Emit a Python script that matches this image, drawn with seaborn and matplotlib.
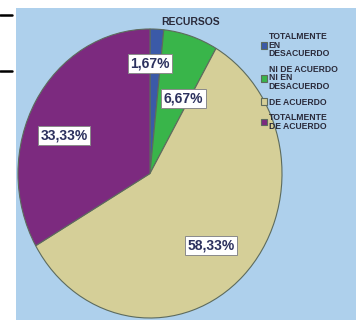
import matplotlib
matplotlib.use("Agg")
import matplotlib.pyplot as plt
import seaborn as sns
import numpy as np
from matplotlib.patches import Rectangle
from matplotlib.lines import Line2D

# data
categories = ["TOTALMENTE\nEN\nDESACUERDO", "NI DE ACUERDO\nNI EN\nDESACUERDO",
              "DE ACUERDO", "TOTALMENTE\nDE ACUERDO"]
percent = [1.67, 6.67, 58.33, 33.33]
colors = ["#3b5aa8", "#39b54a", "#d5cf98", "#7c2a7f"]
title = "RECURSOS"

sns.set_theme(style="white")
plt.rcParams['font.family'] = ['Liberation Sans', 'DejaVu Sans']

fig = plt.figure(figsize=(3.56, 3.2), dpi=100)
fig.patch.set_facecolor("white")

# light blue chart area
fig.patches.append(Rectangle((16 / 356, 0), 1 - 16 / 356, 1 - 8 / 320,
                             transform=fig.transFigure, facecolor="#aed0ec",
                             edgecolor="none", zorder=-5))
# the two short black rules at the left edge
for yy in (1 - 15 / 320, 1 - 71 / 320):
    fig.lines.append(Line2D([0, 12 / 356], [yy, yy], transform=fig.transFigure,
                            color="black", lw=1.8))

ax = fig.add_axes([18 / 356, 2 / 320, 264 / 356, 289 / 320])
ax.set_facecolor("none")
ax.set_zorder(1)
wedges, _ = ax.pie(percent, colors=colors, startangle=90, counterclock=False,
                   wedgeprops=dict(edgecolor="#5d6b5d", linewidth=0.8))
ax.set_aspect("auto")
ax.set_xlim(-1, 1)
ax.set_ylim(-1, 1)
ax.axis("off")

# label positions (polar: angle deg, radius)
label_pos = [(90, 0.76), (64, 0.58), (-47, 0.68), (158, 0.70)]
for val, (ang, r) in zip(percent, label_pos):
    a = np.deg2rad(ang)
    ax.text(r * np.cos(a), r * np.sin(a), f"{val:.2f}%".replace(".", ","),
            ha="center", va="center", fontsize=10, fontweight="bold",
            color="#2c315e",
            bbox=dict(boxstyle="square,pad=0.18", facecolor="white",
                      edgecolor="#8a8a8a", linewidth=0.7))

fig.text(191 / 356, 1 - 22 / 320, title, ha="center", va="center",
         fontsize=7.5, fontweight="bold", color="#2a2a3a")

leg = fig.legend(wedges, categories, loc="upper left",
                 bbox_to_anchor=(261 / 356, 1 - 32 / 320),
                 frameon=False, fontsize=6.2, handlelength=0.75,
                 handleheight=0.75, handletextpad=0.15, labelspacing=0.75,
                 borderaxespad=0, borderpad=0)
leg.set_zorder(2)
for t in leg.get_texts():
    t.set_fontweight("bold")
    t.set_color("#2a2a3a")
    t.set_linespacing(0.95)

fig.savefig("out.png", dpi=100)
